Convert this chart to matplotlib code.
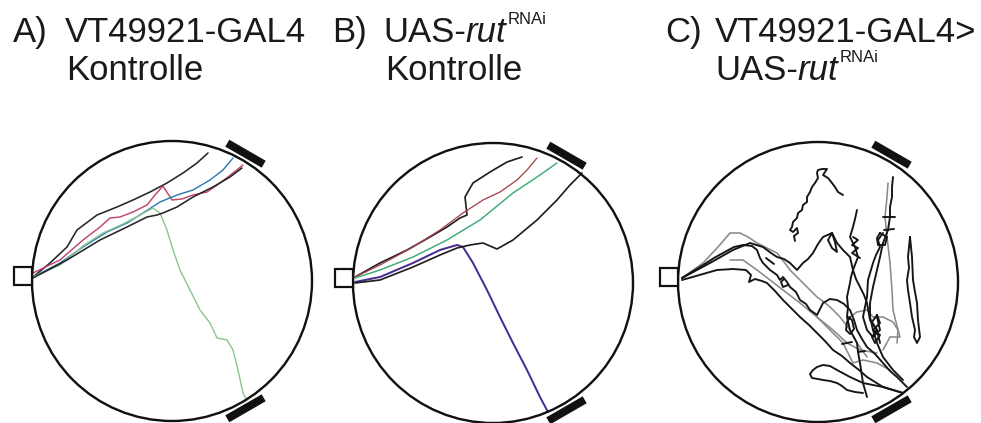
import matplotlib
matplotlib.use("Agg")
import numpy as np
import matplotlib.pyplot as plt
from matplotlib.patches import Circle, Rectangle

plt.rcParams["font.family"] = ["Liberation Sans", "DejaVu Sans"]

W, H = 981, 423
R = 140          # arena radius (tracking px)
PX = 72.0 / 100  # one pixel in points

# fly tracks, tracking px, origin at arena centre, y up
# A) VT49921-GAL4 control
a_black1 = [(-139, 4), (-122, 18), (-105, 34), (-95, 51), (-75, 66), (-55, 74), (-39, 81),
            (-22, 89), (-5, 98), (11, 108), (25, 118), (36, 128)]
a_red = [(-139, 8), (-112, 21), (-89, 41), (-72, 54), (-62, 63), (-52, 64), (-39, 69),
         (-25, 76), (-17, 86), (-9, 95), (0, 81), (10, 82), (21, 86), (35, 89), (48, 98),
         (61, 108), (71, 116)]
a_blue = [(-139, 4), (-112, 18), (-89, 34), (-65, 49), (-45, 58), (-29, 68), (-12, 79),
          (5, 86), (21, 91), (38, 101), (51, 111), (61, 123)]
a_green = [(-139, 4), (-112, 16), (-89, 35), (-69, 48), (-49, 57), (-32, 66), (-19, 73),
           (-12, 68), (-5, 51), (1, 31), (8, 11), (18, -9), (28, -29), (38, -42), (45, -57),
           (55, -59), (61, -69), (66, -89), (71, -112), (75, -119)]
a_black2 = [(-139, 3), (-105, 21), (-72, 41), (-45, 54), (-25, 64), (-15, 66), (-9, 68),
            (5, 74), (21, 84), (41, 94), (58, 104), (70, 113)]

# B) UAS-rut RNAi control
b_black1 = [(-138, 6), (-113, 20), (-86, 33), (-63, 46), (-46, 56), (-33, 65), (-26, 68),
            (-28, 86), (-20, 100), (-3, 111), (14, 121), (29, 126)]
b_red = [(-138, 6), (-113, 18), (-80, 36), (-53, 53), (-30, 70), (-10, 83), (7, 91),
         (24, 103), (34, 113), (44, 125)]
b_green = [(-138, 5), (-113, 13), (-80, 26), (-46, 43), (-13, 63), (20, 90), (44, 106),
           (64, 120)]
b_purple = [(-138, 1), (-113, 6), (-80, 20), (-53, 33), (-36, 38), (-30, 36), (-20, 20),
            (-6, -7), (7, -34), (20, -60), (34, -87), (47, -114), (55, -129)]
b_black2 = [(-138, 0), (-113, 3), (-80, 16), (-53, 28), (-36, 35), (-23, 38), (-10, 40),
            (4, 34), (20, 43), (44, 63), (64, 83), (77, 98), (89, 110)]

# C) VT49921-GAL4 > UAS-rut RNAi
c_black = [
    [(25, 87), (20, 90), (17, 95), (14, 99), (10, 104), (5, 107), (7, 110), (9, 113),
     (4, 113), (0, 112), (-1, 109), (0, 104), (-3, 99), (-6, 95), (-8, 90), (-11, 85),
     (-11, 80), (-15, 77), (-16, 72), (-20, 69), (-21, 64), (-25, 60), (-26, 55),
     (-28, 52), (-25, 50), (-21, 54), (-20, 49), (-24, 46), (-23, 41)],
    [(-136, 4), (-118, 15), (-104, 24), (-95, 29), (-84, 35), (-75, 37), (-66, 36),
     (-61, 32), (-58, 24), (-55, 19), (-48, 12), (-41, 7), (-38, 2), (-35, 5), (-31, 0),
     (-28, -5), (-22, -10), (-18, -18), (-12, -22), (-8, -28), (-1, -33), (2, -27),
     (5, -21), (12, -17), (19, -18), (26, -22), (32, -28), (36, -38), (39, -48),
     (44, -57), (49, -65), (57, -72), (65, -81), (72, -89), (79, -95), (89, -105)],
    [(-136, 4), (-108, 19), (-85, 32), (-68, 39), (-55, 35), (-47, 29), (-41, 25),
     (-34, 23), (-28, 19), (-21, 12), (-15, 19), (-10, 23), (-5, 29), (0, 38), (5, 45),
     (14, 49), (19, 39), (25, 32), (32, 25), (35, 12), (33, 5), (32, -1), (29, -15),
     (30, -25), (29, -35), (32, -48), (39, -61), (40, -70), (42, -81), (45, -101),
     (49, -115)],
    [(-136, 2), (-115, 8), (-101, 12), (-85, 13), (-72, 12), (-67, 7), (-69, 0),
     (-63, 3), (-56, 1), (-51, -1), (-43, -9), (-35, -18), (-26, -27), (-18, -35),
     (-9, -43), (-1, -51), (7, -59), (15, -68), (24, -74), (32, -81), (41, -88),
     (49, -95), (57, -100), (65, -105), (75, -108), (85, -111)],
    [(85, -111), (65, -105), (45, -101), (32, -95), (19, -88), (12, -84), (5, -83),
     (-1, -85), (-5, -88), (-8, -92), (-6, -96), (0, -97), (5, -98), (12, -99),
     (19, -101), (24, -104), (29, -108), (37, -110), (45, -111)],
    [(92, 45), (94, 25), (95, 2), (97, -10), (99, -21), (100, -38), (102, -55),
     (99, -61), (96, -55), (97, -48), (94, -35), (92, -21), (90, -8), (89, 2), (91, 14),
     (90, 25), (92, 45)],
    [(75, 105), (74, 95), (74, 85), (72, 75), (72, 65), (70, 52), (65, 39), (62, 25),
     (59, 12), (55, -5), (52, -21), (52, -35), (55, -48), (59, -61), (65, -75),
     (75, -88), (85, -98)],
    [(39, 72), (37, 63), (35, 55), (32, 45), (37, 35), (40, 25), (35, 12), (38, 3),
     (42, -5), (46, -13), (49, -21), (52, -38), (59, -48), (62, -61)],
    [(65, 49), (60, 42), (62, 35), (58, 27), (55, 19), (50, 2), (49, -15), (45, -35),
     (49, -48), (55, -55), (62, -48), (59, -35)],
    # small knots and loops
    [(32, -35), (29, -40), (28, -48), (32, -52), (36, -47), (34, -38), (30, -35)],
    [(59, -33), (62, -41), (55, -48), (62, -53), (57, -61), (54, -55), (59, -48),
     (54, -40), (59, -33)],
    [(14, 49), (10, 42), (14, 34), (19, 30), (17, 40), (14, 49)],
    [(35, 45), (40, 42), (34, 37), (40, 34), (34, 29), (42, 24)],
    [(62, 49), (69, 45), (67, 37), (60, 37), (59, 44), (62, 49)],
    [(-34, 3), (-37, 0), (-35, -5), (-30, -3)],
    # short crossing ticks
    [(65, 65), (77, 65)],
    [(66, 52), (76, 53)],
    [(-52, 24), (-44, 18)],
    [(24, -62), (34, -60)],
    [(40, -70), (47, -69)],
]
c_grey = [
    [(-136, 4), (-115, 19), (-100, 35), (-88, 49), (-78, 49), (-70, 45), (-61, 39),
     (-51, 34), (-41, 29), (-34, 20), (-28, 12), (-22, 6), (-15, -1), (-8, -8),
     (-1, -15), (6, -20), (12, -25), (22, -35), (32, -48), (39, -61), (49, -75)],
    [(-88, 22), (-75, 22), (-61, 12), (-48, 2), (-35, -8), (-18, -21), (-1, -35),
     (15, -48), (29, -61), (42, -68), (59, -71)],
    [(70, 99), (69, 85), (67, 65), (69, 45), (72, 19), (74, -8), (75, -28), (80, -48),
     (82, -55), (72, -55), (65, -68)],
    [(-1, -35), (12, -48), (25, -61), (35, -81), (45, -78), (59, -81), (72, -88)],
    [(32, -35), (39, -30), (49, -28), (55, -35), (65, -35), (75, -40), (80, -48),
     (79, -61)],
]

panels = [
    {"center": (172, 281),
     "tracks": [(a_black1, "#262626", 1.6), (a_red, "#c23e6c", 1.4),
                (a_blue, "#2a76ae", 1.4), (a_green, "#86c792", 1.4),
                (a_black2, "#262626", 1.6)]},
    {"center": (493, 283),
     "tracks": [(b_black1, "#1e1e1e", 1.7), (b_red, "#a8434a", 1.3),
                (b_green, "#3fae78", 1.5), (b_purple, "#4b2c92", 2.0),
                (b_black2, "#1e1e1e", 1.7)]},
    {"center": (818, 282),
     "tracks": [(t, "#8a8a8a", 1.6) for t in c_grey] +
               [(t, "#151515", 1.9) for t in c_black]},
]

fig = plt.figure(figsize=(W / 100, H / 100), dpi=100)
L = 175
for p in panels:
    cx, cy = p["center"]
    ax = fig.add_axes([(cx - L) / W, (H - cy - L) / H, 2 * L / W, 2 * L / H])
    ax.set_xlim(-L, L)
    ax.set_ylim(-L, L)
    ax.axis("off")

    for pts, col, lw in p["tracks"]:
        xy = np.array(pts)
        ax.plot(xy[:, 0], xy[:, 1], color=col, lw=lw * PX, solid_joinstyle="round",
                solid_capstyle="round", zorder=2)

    ax.add_patch(Circle((0, 0), R, fill=False, lw=2.4 * PX, ec="#111111", zorder=3))
    # entrance
    ax.add_patch(Rectangle((-158, -4), 18, 18, fc="white", ec="#111111",
                           lw=2.2 * PX, zorder=4))
    # light bars outside the arena wall
    for ang in (60, -60):
        a = np.deg2rad(ang)
        mx, my = 147 * np.cos(a), 147 * np.sin(a)
        tx, ty = -np.sin(a), np.cos(a)
        ax.plot([mx - 21 * tx, mx + 21 * tx], [my - 21 * ty, my + 21 * ty],
                color="#111111", lw=8 * PX, solid_capstyle="butt", zorder=4)

renderer = fig.canvas.get_renderer()
FS = 25


def put(x, y, s, **kw):
    kw.setdefault("fontsize", FS)
    t = fig.text(x / W, 1 - y / H, s, va="baseline", ha="left", color="#1a1a1a", **kw)
    return t.get_window_extent(renderer)


def uas_rut(x, y):
    bb = put(x, y, "UAS-")
    bb = put(bb.x1, y, "rut", style="italic")
    put(bb.x1 + 1, y - 18, "RNAi", fontsize=12)


put(13, 42, "A)")
put(65, 42, "VT49921-GAL4")
put(66, 80, "Kontrolle")

put(332, 42, "B)")
uas_rut(383, 42)
put(385, 80, "Kontrolle")

put(665, 42, "C)")
put(715, 42, "VT49921-GAL4>")
uas_rut(715, 80)

fig.savefig("out.png", dpi=100)
